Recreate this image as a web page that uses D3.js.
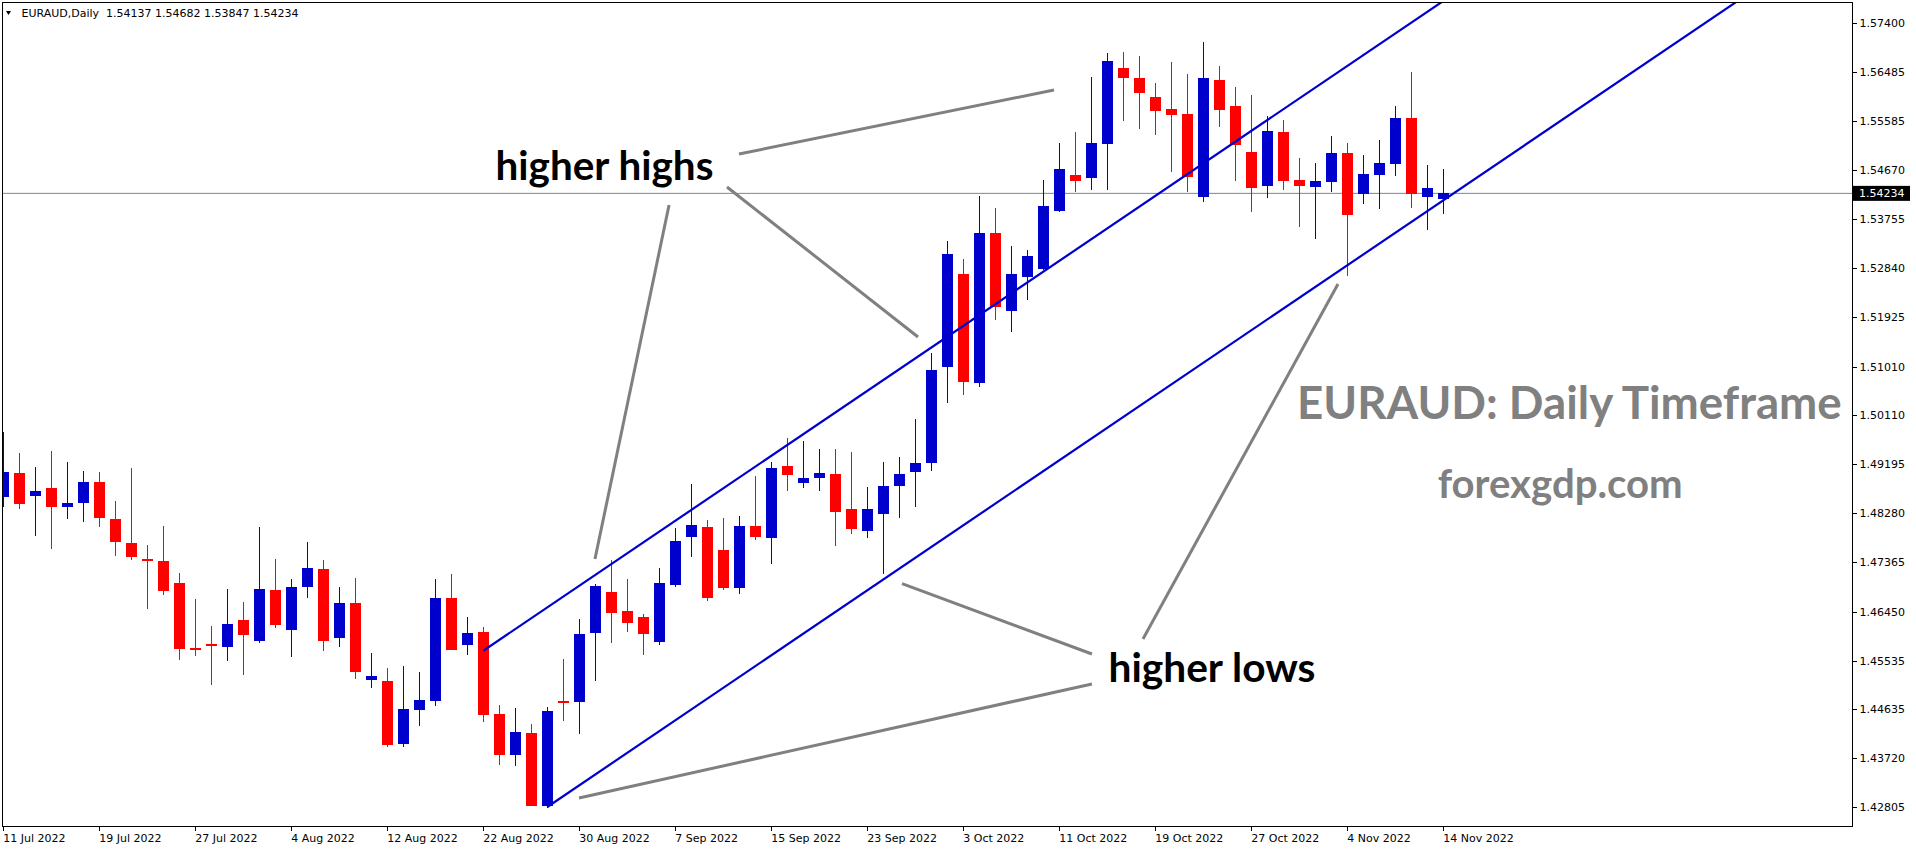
<!DOCTYPE html>
<html><head><meta charset="utf-8">
<script src="https://cdn.jsdelivr.net/npm/d3@7"></script>
<style>html,body{margin:0;padding:0;background:#fff;overflow:hidden}</style>
</head><body><svg id="c" width="1916" height="850"></svg>
<script>
// ---------- DATA ----------
const symbol = "EURAUD,Daily";
const firstDay = "2022-07-11";
const lastDay = "2022-11-14";
const open = [1.48587,1.49029,1.48600,1.48749,1.48396,1.48470,1.48861,1.48172,1.47726,1.47428,
1.47390,1.46981,1.45771,1.45845,1.45789,1.46292,1.45901,1.46851,1.46106,1.46906,
1.47241,1.45957,1.46609,1.45175,1.45156,1.43984,1.44617,1.44784,1.46702,1.45827,
1.46069,1.44542,1.43779,1.44188,1.42830,1.44784,1.44766,1.46050,1.46813,1.46460,
1.46348,1.45882,1.46944,1.47837,1.48023,1.47595,1.46888,1.48042,1.47819,1.49159,
1.48842,1.48935,1.49010,1.48358,1.47949,1.48265,1.48787,1.49047,1.49215,1.51002,
1.52733,1.50704,1.53497,1.52044,1.52677,1.52826,1.53906,1.54576,1.54520,1.55153,
1.56568,1.56382,1.56028,1.55805,1.55712,1.54167,1.56345,1.55861,1.55004,1.54371,
1.55377,1.54483,1.54353,1.54446,1.54986,1.54223,1.54576,1.54781,1.55637,1.54167,
1.54137];
const high = [1.49792,1.49401,1.49140,1.49438,1.49233,1.49066,1.49047,1.48507,1.49122,1.47688,
1.48042,1.47167,1.46683,1.46180,1.46869,1.46627,1.48023,1.47428,1.47055,1.47744,
1.47409,1.46906,1.47074,1.45678,1.45398,1.45436,1.45324,1.47055,1.47148,1.46348,
1.46162,1.44710,1.44654,1.44356,1.44672,1.45566,1.46311,1.46962,1.47409,1.47055,
1.46404,1.47260,1.48005,1.48824,1.48154,1.48191,1.48228,1.48973,1.49233,1.49680,
1.49624,1.49475,1.49475,1.49420,1.48768,1.49233,1.49327,1.50034,1.51263,1.53348,
1.53012,1.54185,1.53962,1.53255,1.53180,1.54483,1.55172,1.55377,1.56400,1.56847,
1.56866,1.56791,1.56289,1.56680,1.56456,1.57052,1.56605,1.56214,1.56065,1.55674,
1.55600,1.54893,1.54800,1.55302,1.55172,1.54949,1.55228,1.55861,1.56493,1.54762,
1.54682];
const low = [1.48401,1.48358,1.47856,1.47614,1.48172,1.48116,1.48023,1.47484,1.47409,1.46497,
1.46757,1.45547,1.45622,1.45082,1.45529,1.45268,1.45864,1.46143,1.45603,1.46702,
1.45715,1.45789,1.45194,1.45026,1.43928,1.43928,1.44319,1.44691,1.45730,1.45640,
1.44393,1.43593,1.43574,1.42825,1.42792,1.44412,1.44170,1.45156,1.45864,1.46069,
1.45640,1.45827,1.46906,1.47465,1.46646,1.46851,1.46776,1.47781,1.47335,1.48694,
1.48749,1.48694,1.47670,1.47893,1.47819,1.47148,1.48191,1.48396,1.49066,1.50332,
1.50481,1.50630,1.51877,1.51653,1.52249,1.52808,1.53887,1.54260,1.54297,1.54297,
1.55581,1.55432,1.55321,1.54632,1.54260,1.54074,1.55470,1.54465,1.53887,1.54148,
1.54297,1.53608,1.53385,1.54260,1.52696,1.54036,1.53943,1.54558,1.53962,1.53552,
1.53847];
const close = [1.49047,1.48452,1.48694,1.48396,1.48470,1.48861,1.48191,1.47744,1.47465,1.47396,
1.46832,1.45752,1.45734,1.45808,1.46218,1.46013,1.46869,1.46199,1.46906,1.47260,
1.45901,1.46609,1.45324,1.45250,1.43965,1.44635,1.44803,1.46702,1.45734,1.46050,
1.44524,1.43779,1.44207,1.42830,1.44598,1.44747,1.46031,1.46925,1.46422,1.46236,
1.46031,1.46981,1.47763,1.48061,1.46702,1.46888,1.48042,1.47837,1.49122,1.48991,
1.48935,1.49029,1.48303,1.47986,1.48358,1.48787,1.49010,1.49215,1.50946,1.53106,
1.50723,1.53497,1.52119,1.52733,1.53068,1.53999,1.54688,1.54465,1.55172,1.56698,
1.56382,1.56103,1.55767,1.55693,1.54539,1.56382,1.55786,1.55135,1.54334,1.55395,
1.54465,1.54371,1.54465,1.54986,1.53832,1.54595,1.54800,1.55637,1.54223,1.54334,
1.54234];
const priceTicks = [1.57400,1.56485,1.55585,1.54670,1.53755,1.52840,1.51925,1.51010,1.50110,
1.49195,1.48280,1.47365,1.46450,1.45535,1.44635,1.43720,1.42805];
const dateTickLabels = ["11 Jul 2022","19 Jul 2022","27 Jul 2022","4 Aug 2022","12 Aug 2022",
"22 Aug 2022","30 Aug 2022","7 Sep 2022","15 Sep 2022","23 Sep 2022","3 Oct 2022",
"11 Oct 2022","19 Oct 2022","27 Oct 2022","4 Nov 2022","14 Nov 2022"];
// channel trend lines (bar index, price), drawn as rays
const channelUpper = [[30, 1.45720], [59, 1.51566]];
const channelLower = [[34, 1.42811], [84, 1.52895]];
// grey pointer lines (bar index, price)
const pointerLines = [
  [[45.98, 1.54967], [65.67, 1.56158]],
  [[45.23, 1.54353], [57.17, 1.51560]],
  [[41.61, 1.54018], [36.98, 1.47428]],
  [[35.98, 1.42978], [68.04, 1.45101]],
  [[68.04, 1.45659], [56.17, 1.46970]],
  [[71.23, 1.45938], [83.42, 1.52547]]
];
const labels = ["higher highs", "higher lows", "EURAUD: Daily Timeframe", "forexgdp.com"];

// ---------- LAYOUT ----------
const W = 1916, H = 850;
const P = {left: 2, top: 2, right: 1852, bottom: 826};
const svg = d3.select("#c");

// trading days
const days = d3.utcDay.range(new Date(firstDay + "T00:00:00Z"), new Date(lastDay + "T00:00:01Z"))
  .filter(d => d.getUTCDay() !== 0 && d.getUTCDay() !== 6);
const fmt = d3.utcFormat("%-d %b %Y");
const bars = days.map((d, i) => ({i, date: d, o: open[i], h: high[i], l: low[i], c: close[i]}));
const n = bars.length;

const x = d3.scaleLinear().domain([0, n - 1]).range([3.3, 3.3 + 16 * (n - 1)]);
const y = d3.scaleLinear().domain([1.42805, 1.57400]).range([807.3, 23.3]);

svg.append("rect").attr("width", W).attr("height", H).attr("fill", "#fff");

const defs = svg.append("defs");
defs.append("clipPath").attr("id", "plotclip").append("rect")
  .attr("x", P.left).attr("y", P.top).attr("width", P.right - P.left).attr("height", P.bottom - P.top);

const plot = svg.append("g").attr("clip-path", "url(#plotclip)");

// current price (bid) line
const last = bars[n - 1];
plot.append("line").attr("x1", P.left).attr("x2", P.right)
  .attr("y1", y(last.c)).attr("y2", y(last.c))
  .attr("stroke", "#778899").attr("stroke-width", 1);

// candles
const bull = "#0000CD", bear = "#FF0000";
const cg = plot.append("g").attr("shape-rendering", "crispEdges");
cg.selectAll("rect.wick").data(bars).join("rect").attr("class", "wick")
  .attr("x", d => x(d.i) - 0.6).attr("width", 1.3)
  .attr("y", d => y(d.h)).attr("height", d => Math.max(1, y(d.l) - y(d.h)))
  .attr("fill", d => d.c >= d.o ? bull : bear);
cg.selectAll("rect.body").data(bars).join("rect").attr("class", "body")
  .attr("x", d => x(d.i) - 5.5).attr("width", 11)
  .attr("y", d => Math.min(y(d.o), y(d.c)))
  .attr("height", d => Math.max(2, Math.abs(y(d.o) - y(d.c))))
  .attr("fill", d => d.c >= d.o ? bull : bear);

// channel rays
const line = d3.line().x(d => x(d[0])).y(d => y(d[1]));
function ray(seg, toBar) {
  const [a, b] = seg;
  const s = (b[1] - a[1]) / (b[0] - a[0]);
  return [a, [toBar, a[1] + s * (toBar - a[0])]];
}
[channelUpper, channelLower].forEach(seg => {
  plot.append("path").attr("d", line(ray(seg, 140)))
    .attr("fill", "none").attr("stroke", "#0000CD").attr("stroke-width", 2.2);
});

// pointer lines
plot.selectAll("path.ptr").data(pointerLines).join("path").attr("class", "ptr")
  .attr("d", d => line(d)).attr("fill", "none").attr("stroke", "#808080").attr("stroke-width", 3);

// annotation texts fitted to width
function fitText(txt, x0, base, targetW, fill, family) {
  const t = svg.append("text").text(txt).attr("x", x0).attr("y", base)
    .attr("font-family", family).attr("font-weight", 700).attr("font-size", 100).attr("fill", fill);
  const w = t.node().getBBox().width;
  t.attr("font-size", 100 * targetW / w);
  return t;
}
fitText(labels[0], 495.5, 180, 218, "#000", "Lato, 'Open Sans', sans-serif");
fitText(labels[1], 1108.5, 681.5, 207, "#000", "Lato, 'Open Sans', sans-serif");
fitText(labels[2], 1297, 418.5, 545, "#808080", "Lato, 'Open Sans', sans-serif");
fitText(labels[3], 1437.7, 498, 245, "#808080", "Lato, 'Open Sans', sans-serif");

// frame
svg.append("rect").attr("x", P.left + 0.5).attr("y", P.top + 0.5)
  .attr("width", P.right - P.left).attr("height", P.bottom - P.top)
  .attr("fill", "none").attr("stroke", "#000").attr("stroke-width", 1).attr("shape-rendering", "crispEdges");

const axisFont = "'DejaVu Sans', Verdana, sans-serif";
// price axis
const ya = svg.append("g").attr("transform", `translate(${P.right + 0.5},0)`)
  .call(d3.axisRight(y).tickValues(priceTicks).tickFormat(d3.format(".5f")).tickSize(4).tickPadding(3));
ya.select(".domain").remove();
ya.selectAll("line").attr("stroke", "#000").attr("shape-rendering", "crispEdges");
ya.selectAll("text").attr("font-family", axisFont).attr("font-size", 11).attr("fill", "#000");

// current price tag
const tag = svg.append("g");
tag.append("rect").attr("x", P.right + 1).attr("y", y(last.c) - 7.5).attr("width", 57).attr("height", 15).attr("fill", "#000");
tag.append("text").attr("x", P.right + 7).attr("y", y(last.c)).attr("dy", "0.36em")
  .attr("font-family", axisFont).attr("font-size", 11).attr("fill", "#fff").text(d3.format(".5f")(last.c));

// time axis
const tickIdx = dateTickLabels.map(s => bars.findIndex(b => fmt(b.date) === s));
const xa = svg.append("g").attr("transform", `translate(0,${P.bottom + 0.5})`)
  .call(d3.axisBottom(x).tickValues(tickIdx).tickFormat(i => fmt(bars[i].date)).tickSize(4).tickPadding(4));
xa.select(".domain").remove();
xa.selectAll("line").attr("stroke", "#000").attr("shape-rendering", "crispEdges");
xa.selectAll("text").attr("font-family", axisFont).attr("font-size", 11).attr("fill", "#000")
  .attr("text-anchor", "start").attr("x", -0.5);

// header
svg.append("path").attr("d", d3.line()([[6, 11], [11, 11], [8.5, 15]])).attr("fill", "#000");
svg.append("text").attr("x", 21.5).attr("y", 17.3).attr("xml:space", "preserve").style("white-space", "pre")
  .attr("font-family", axisFont).attr("font-size", 11).attr("fill", "#000")
  .text(`${symbol}  ${[last.o, last.h, last.l, last.c].map(d3.format(".5f")).join(" ")}`);
</script>
</body></html>
